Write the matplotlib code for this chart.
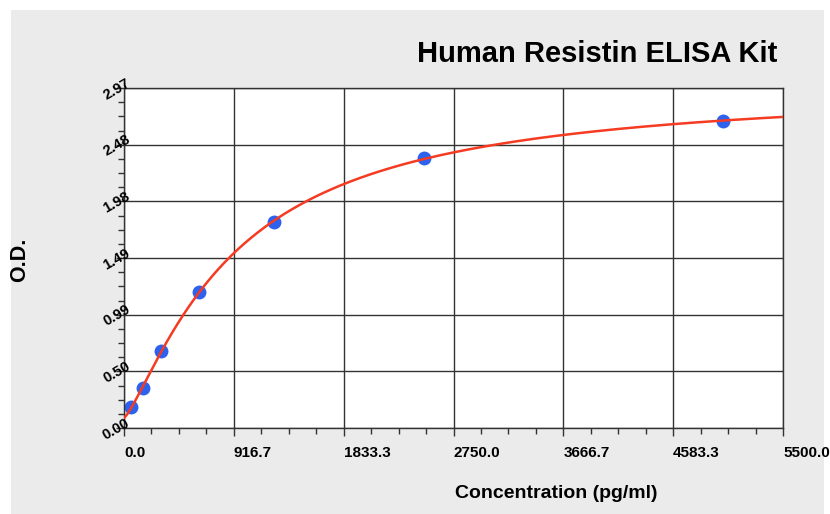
import numpy as np
import matplotlib
matplotlib.use("Agg")
import matplotlib.pyplot as plt
from matplotlib.patches import Rectangle
from matplotlib.ticker import MultipleLocator, FixedLocator

# standard curve points
conc = [62.5, 156.25, 312.5, 625, 1250, 2500, 5000]
od = [0.186, 0.352, 0.672, 1.19, 1.796, 2.358, 2.684]

x_ticks = [0.0, 916.7, 1833.3, 2750.0, 3666.7, 4583.3, 5500.0]
x_labels = ["0.0", "916.7", "1833.3", "2750.0", "3666.7", "4583.3", "5500.0"]
y_ticks = [0.0, 0.495, 0.99, 1.485, 1.98, 2.475, 2.97]
y_labels = ["0.00", "0.50", "0.99", "1.49", "1.98", "2.48", "2.97"]

title = "Human Resistin ELISA Kit"
xlab = "Concentration (pg/ml)"
ylab = "O.D."

plt.rcParams['font.family'] = ["Liberation Sans", "DejaVu Sans"]


def fit_4pl(x, y):
    '''
    Four parameter logistic fit: grid over b and c,
    a and d solved by least squares
    '''
    x = np.asarray(x, float)
    y = np.asarray(y, float)
    best = None
    for b in np.linspace(0.5, 2.0, 151):
        for c in np.linspace(200, 5000, 481):
            g = 1.0 / (1.0 + (x / c) ** b)
            A = np.column_stack([g, 1 - g])
            coef, *_ = np.linalg.lstsq(A, y, rcond=None)
            err = np.sum((A @ coef - y) ** 2)
            if best is None or err < best[0]:
                best = (err, coef[0], b, c, coef[1])
    return best[1:]


a, b, c, d = fit_4pl(conc, od)
xs = np.linspace(0, 5500, 400)
ys = d + (a - d) / (1 + (xs / c) ** b)

fig = plt.figure(figsize=(8.3, 5.14), dpi=100)
fig.patch.set_facecolor("white")
fig.patches.append(Rectangle((11 / 830, 0), 813 / 830, 504 / 514,
                             transform=fig.transFigure, facecolor="#ebebeb",
                             edgecolor="none", zorder=-10))

ax = fig.add_axes([124 / 830, 86 / 514, 659 / 830, 340 / 514])
ax.set_facecolor("white")
ax.set_xlim(0, 5500)
ax.set_ylim(0, 2.97)

ax.plot(xs, ys, color="#f53b22", lw=1.8, zorder=3)
ax.plot(conc, od, "o", color="#2d62ee", ms=10, mec="none", zorder=2)

ax.xaxis.set_major_locator(FixedLocator(x_ticks))
ax.yaxis.set_major_locator(FixedLocator(y_ticks))
ax.xaxis.set_minor_locator(MultipleLocator(5500 / 24))
ax.yaxis.set_minor_locator(MultipleLocator(2.97 / 24))
ax.grid(True, which="major", color="#333333", lw=1.0)
ax.set_axisbelow(True)
for s in ax.spines.values():
    s.set_color("#333333")
    s.set_linewidth(1.0)

ax.tick_params(which="major", length=6, width=1.0, color="#333333")
ax.tick_params(which="minor", length=4, width=1.0, color="#333333")
ax.set_xticklabels([])
ax.set_yticklabels([])

# tick labels drawn by hand so they sit like the original
for xv, lab in zip(x_ticks, x_labels):
    ax.annotate(lab, (xv, 0), xycoords=("data", "axes fraction"),
                xytext=(0, -13), textcoords="offset points",
                ha="left", va="top", fontsize=11, fontweight="bold")
for yv, lab in zip(y_ticks, y_labels):
    ax.annotate(lab, (0, yv), xycoords=("axes fraction", "data"),
                xytext=(6, 0), textcoords="offset points",
                ha="right", va="bottom", rotation=30, rotation_mode="anchor",
                fontsize=10.5, fontweight="bold")

fig.text(597 / 830, 452 / 514, title, ha="center", va="baseline",
         fontsize=21, fontweight="bold")
fig.text(556 / 830, 16 / 514, xlab, ha="center", va="baseline",
         fontsize=14, fontweight="bold")
fig.text(20 / 830, 254 / 514, ylab, ha="center", va="center", rotation=90,
         fontsize=15.5, fontweight="bold")

fig.savefig("out.png", dpi=100, facecolor=fig.get_facecolor())
